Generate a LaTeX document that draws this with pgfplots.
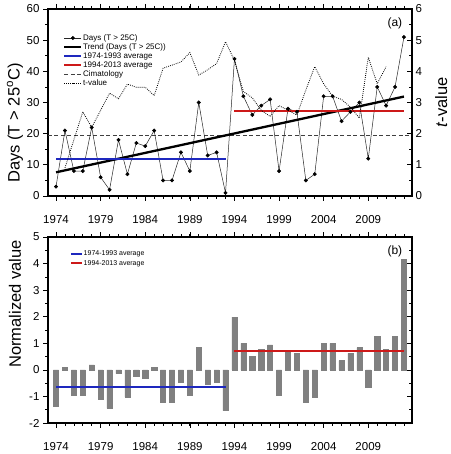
\documentclass[border=0pt]{standalone}
\usepackage{pgfplots}
\pgfplotsset{compat=1.18}
\usepackage{pgfplotstable}
\usepackage{fontspec}
\setmainfont{Liberation Sans}
\definecolor{avgblue}{RGB}{30,40,190}
\definecolor{avgred}{RGB}{205,25,25}
\definecolor{bargray}{RGB}{128,128,128}

\pgfplotstableread{
year days
1974 3
1975 21
1976 8
1977 8
1978 22
1979 6
1980 2
1981 18
1982 7
1983 17
1984 16
1985 21
1986 5
1987 5
1988 14
1989 8
1990 30
1991 13
1992 14
1993 1
1994 44
1995 32
1996 26
1997 29
1998 31
1999 8
2000 28
2001 27
2002 5
2003 7
2004 32
2005 32
2006 24
2007 27
2008 30
2009 12
2010 35
2011 29
2012 35
2013 51
}\daystable

\pgfplotstableread{
year t
1975 0.9
1976 1.8
1977 2.7
1978 2.2
1979 2.75
1980 3.3
1981 3.12
1982 3.59
1983 3.49
1984 3.49
1985 3.22
1986 4.1
1987 4.2
1988 4.3
1989 4.6
1990 3.88
1991 4.05
1992 4.25
1993 4.95
1994 4.35
1995 3.35
1996 3.15
1997 2.75
1998 2.55
1999 2.9
2000 2.75
2001 2.6
2002 3.4
2003 4.15
2004 3.6
2005 3.2
2006 3.1
2007 2.85
2008 2.5
2009 4.45
2010 3.6
2011 4.15
}\ttable

\pgfplotstableread{
year norm
1974 -1.37
1975 0.10
1976 -0.95
1977 -0.95
1978 0.19
1979 -1.12
1980 -1.45
1981 -0.14
1982 -1.03
1983 -0.24
1984 -0.31
1985 0.10
1986 -1.22
1987 -1.22
1988 -0.46
1989 -0.95
1990 0.84
1991 -0.55
1992 -0.46
1993 -1.53
1994 1.98
1995 1.00
1996 0.52
1997 0.77
1998 0.94
1999 -0.97
2000 0.69
2001 0.62
2002 -1.22
2003 -1.04
2004 1.00
2005 1.00
2006 0.35
2007 0.62
2008 0.84
2009 -0.65
2010 1.26
2011 0.77
2012 1.26
2013 4.16
}\normtable

\pgfplotsset{
  /pgf/number format/assume math mode=true,
  /pgf/number format/1000 sep={},
  every axis/.append style={
    scale only axis,
    width=364pt,
    xmin=1973.1, xmax=2013.9,
    tick label style={font=\fontsize{11.5}{12}\selectfont},
    axis line style={line width=1.1pt},
    major tick length=5pt,
    minor tick length=3pt,
    every tick/.style={black, line width=0.7pt},
    tick align=outside,
  },
}

\begin{document}
\begin{tikzpicture}[x=1pt,y=1pt]
\path (0,0) rectangle (450,454);

% ---------- Panel (b): bars ----------
\begin{axis}[
  at={(48pt,31pt)}, anchor=south west,
  height=186pt,
  ymin=-2, ymax=5,
  xtick={1974,1979,...,2009},
  minor xtick={1974,...,2013},
  xtick pos=both,
  ytick={-2,...,5},
  minor ytick={-1.5,-0.5,...,4.5},
  ytick pos=left,
  ylabel={Normalized value},
  every axis y label/.style={at={(axis description cs:-0.0907,0.64)}, rotate=90, anchor=center, font=\fontsize{16.5}{18}\selectfont},
  xticklabel style={yshift=-11pt},
]
\addplot[ybar, bar width=5.2pt, fill=bargray, draw=bargray, line width=0.5pt]
  table[x=year, y=norm] {\normtable};
\end{axis}

% ---------- Panel (b): average lines, right ticks, legend ----------
\begin{axis}[
  at={(48pt,31pt)}, anchor=south west,
  height=186pt,
  ymin=-2, ymax=5,
  axis x line=none,
  axis y line*=right,
  ytick={-2,...,5},
  minor ytick={-1.5,-0.5,...,4.5},
  yticklabel=\empty,
  ytick align=inside,
  legend style={
    at={(axis description cs:0.052,0.945)}, anchor=north west,
    draw=none, fill=none,
    font=\fontsize{7}{8}\selectfont,
    nodes={inner sep=0.6pt, text height=5.5pt, text depth=1.5pt, anchor=west},
    row sep=1.5pt,
  },
  legend cell align=left,
  legend image code/.code={\draw[mark repeat=2,mark phase=2] plot coordinates {(0pt,0pt)(5.5pt,0pt)(11pt,0pt)};},
]
\addplot[color=avgblue, line width=2pt] coordinates {(1974,-0.645) (1993,-0.645)};
\addlegendentry{1974-1993 average}
\addplot[color=avgred, line width=2pt] coordinates {(1994,0.71) (2013,0.71)};
\addlegendentry{1994-2013 average}
\node[font=\fontsize{12}{13}\selectfont] at (rel axis cs:0.953,0.92) {(b)};
\end{axis}

% ---------- Panel (a) ----------
\begin{axis}[
  at={(48pt,258pt)}, anchor=south west,
  height=187pt,
  ymin=0, ymax=60,
  xtick={1974,1979,...,2009},
  minor xtick={1974,...,2013},
  xtick pos=both,
  ytick={0,10,...,60},
  minor ytick={5,15,...,55},
  ytick pos=left,
  ylabel={Days (T > 25\textsuperscript{o}C)},
  every axis y label/.style={at={(axis description cs:-0.0907,0.39)}, rotate=90, anchor=center, font=\fontsize{16.5}{18}\selectfont},
  xticklabel style={yshift=-11pt},
  legend style={
    at={(axis description cs:0.033,0.88)}, anchor=north west,
    draw=none, fill=none,
    font=\fontsize{8}{9}\selectfont,
    nodes={inner sep=0.6pt, text height=6pt, text depth=1.6pt, anchor=west},
    row sep=0.2pt,
  },
  legend cell align=left,
]
\addplot[color=black!75, line width=0.6pt, dash pattern=on 4pt off 2.5pt, forget plot] coordinates {(1973.1,19.6) (2013.9,19.6)};
\addplot[color=black!85, line width=0.5pt, mark=*, mark size=1.7pt, mark options={fill=black, draw=black}]
  table[x=year, y=days] {\daystable};
\addlegendentry{Days (T > 25C)}
\addplot[color=black, line width=2.3pt] coordinates {(1974,7.6) (2013,31.9)};
\addlegendentry{Trend (Days (T > 25C))}
\addplot[color=avgblue, line width=1.8pt] coordinates {(1974,11.9) (1993,11.9)};
\addlegendentry{1974-1993 average}
\addplot[color=avgred, line width=1.8pt] coordinates {(1994,27.3) (2013,27.3)};
\addlegendentry{1994-2013 average}
\addlegendimage{color=black!75, line width=0.6pt, dash pattern=on 4pt off 2.5pt}
\addlegendentry{Cimatology}
\addlegendimage{color=black, line width=0.8pt, dash pattern=on 0.8pt off 1.2pt}
\addlegendentry{t-value}
\node[font=\fontsize{12}{13}\selectfont] at (rel axis cs:0.953,0.925) {(a)};
\end{axis}

\begin{axis}[
  at={(48pt,258pt)}, anchor=south west,
  height=187pt,
  ymin=0, ymax=6,
  axis x line=none,
  axis y line*=right,
  ytick={0,...,6},
  minor ytick={0.5,1.5,...,5.5},
  ytick align=inside,
  ylabel={\textit{t}-value},
  every axis y label/.style={at={(axis description cs:1.08,0.5)}, rotate=90, anchor=center, font=\fontsize{16.5}{18}\selectfont},
]
\addplot[color=black, line width=0.8pt, dash pattern=on 0.8pt off 1.2pt]
  table[x=year, y=t] {\ttable};
\end{axis}
\end{tikzpicture}
\end{document}
